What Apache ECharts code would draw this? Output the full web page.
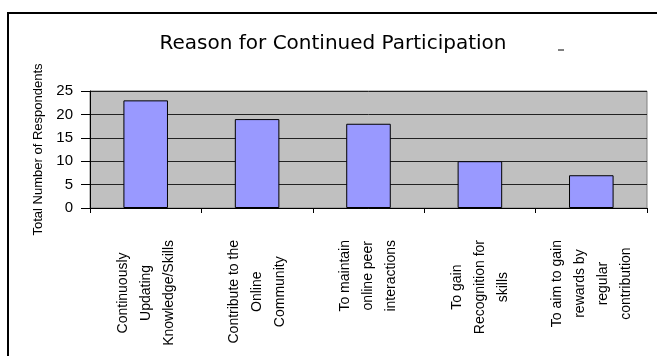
<!DOCTYPE html>
<html>
<head>
<meta charset="utf-8">
<script src="https://cdn.jsdelivr.net/npm/echarts@6/dist/echarts.min.js"></script>
<style>
  html, body {margin: 0; padding: 0; background: #fff;}
  #chart {width: 657px; height: 356px;}
</style>
</head>
<body>
<div id="chart"></div>
<script>
;(function () {
  const categories = [
    ['Continuously', 'Updating', 'Knowledge/Skills'],
    ['Contribute to the', 'Online', 'Community'],
    ['To maintain', 'online peer', 'interactions'],
    ['To gain', 'Recognition for', 'skills'],
    ['To aim to gain', 'rewards by', 'regular', 'contribution'],
  ]
  const respondents = [23, 19, 18, 10, 7]
  const yTicks = [0, 5, 10, 15, 20, 25]
  const sans = '"Liberation Sans", Arial, sans-serif'

  const myChart = echarts.init(document.getElementById('chart'), null, {renderer: 'canvas'})
  const option = {
    animation: false,
    backgroundColor: '#fff',
    title: {
      text: 'Reason for Continued Participation', left: 328, top: 29, textAlign: 'center',
      textStyle: {fontFamily: 'DejaVu Sans', fontSize: 20, fontWeight: 'normal', color: '#000'},
    },
    graphic: [
      {type: 'rect', shape: {x: 8, y: 13, width: 700, height: 400}, style: {fill: null, stroke: '#000', lineWidth: 2}, silent: true},
      {type: 'line', shape: {x1: 558, y1: 50, x2: 564, y2: 50}, style: {stroke: '#000', lineWidth: 1}, silent: true},
    ],
    grid: {
      left: 90, right: 10, top: 91, bottom: 148, show: true, outerBoundsMode: 'none', containLabel: false,
      backgroundColor: '#c0c0c0', borderColor: '#808080', borderWidth: 1,
    },
    xAxis: {
      type: 'category',
      data: categories.map(c => c.join('\n')),
      axisLine: {lineStyle: {color: '#000', width: 1}},
      axisTick: {show: true, alignWithLabel: false, length: 5, lineStyle: {color: '#000'}},
      axisLabel: {
        rotate: 90, margin: 32, interval: 0, color: '#000',
        fontFamily: sans, fontSize: 14, lineHeight: 23,
        formatter: v => v.split('\n').map(l => `{c|${ l }}`).join('\n'),
        rich: {c: {align: 'center', fontFamily: sans, fontSize: 14, lineHeight: 23, color: '#000'}},
      },
    },
    yAxis: {
      type: 'value', min: yTicks[0], max: yTicks[yTicks.length - 1], interval: 5,
      name: 'Total Number of Respondents', nameLocation: 'middle', nameGap: 44,
      nameTextStyle: {fontFamily: sans, fontSize: 13, color: '#000'},
      axisLine: {show: true, lineStyle: {color: '#000', width: 1}},
      axisTick: {show: true, length: 9, lineStyle: {color: '#000'}},
      axisLabel: {margin: 17, color: '#000', fontFamily: sans, fontSize: 15},
      splitLine: {show: true, lineStyle: {color: '#222', width: 1}},
    },
    series: [{
      type: 'bar', data: respondents, barWidth: '40%',
      itemStyle: {color: '#9999ff', borderColor: '#000', borderWidth: 1},
    }],
  }
  myChart.setOption(option)
})()
</script>
</body>
</html>
